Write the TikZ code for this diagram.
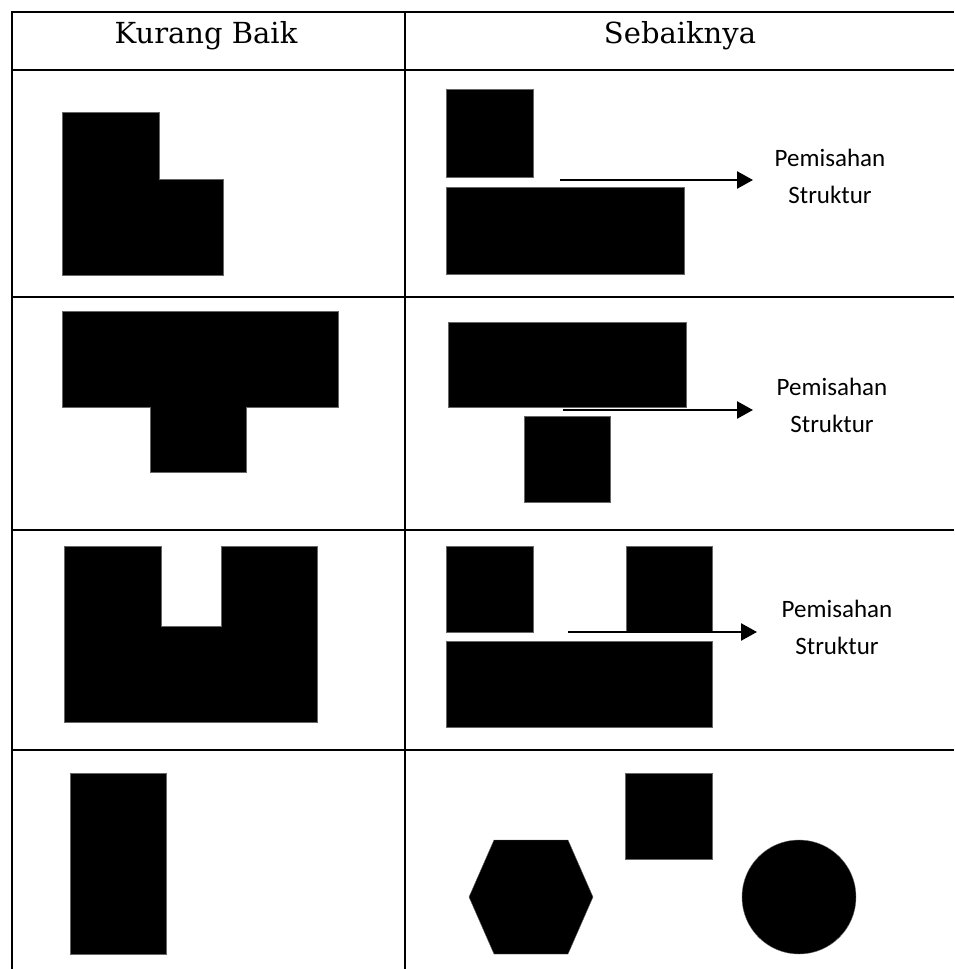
\documentclass[tikz,border=0pt]{standalone}
\usepackage{fontspec}
\setmainfont{DejaVu Serif}
\newfontfamily\lblfont{Carlito}
\usetikzlibrary{arrows.meta}
\tikzset{
  grid/.style={line width=2pt, black},
  blk/.style={fill=black, draw=black!60, line width=0.4pt},
  arr/.style={line width=2.5pt, -{Triangle[length=16pt,width=17pt]}},
  lbl/.style={align=center, inner sep=0pt, font=\lblfont\fontsize{25}{37}\selectfont},
  hdr/.style={anchor=base, inner sep=0pt, font=\fontsize{29}{34}\selectfont}
}
\begin{document}
\begin{tikzpicture}[x=1pt,y=-1pt]
\useasboundingbox (0,0) rectangle (954,969);
% table grid
\draw[grid] (12,969) -- (12,12) -- (954,12);
\draw[grid] (405,12) -- (405,969);
\foreach \yy in {70,297,530,750} \draw[grid] (12,\yy) -- (954,\yy);
% headers
\node[hdr] (h1) at (206,43) {Kurang Baik};
\node[hdr] (h2) at (680,43) {Sebaiknya};
% row 1
\fill[blk] (62,112) -- (159,112) -- (159,179) -- (223,179) -- (223,275) -- (62,275) -- cycle;
\fill[blk] (446,89) rectangle (533,177);
\fill[blk] (446,187) rectangle (684,274);
\node[lbl] (l1) at (830,176) {Pemisahan\\Struktur};
\coordinate (a1) at (560,180);
\coordinate (e1) at (753,180);
\draw[arr] (a1) -- (e1);
% row 2
\fill[blk] (62,311) -- (338,311) -- (338,407) -- (246,407) -- (246,472) -- (150,472) -- (150,407) -- (62,407) -- cycle;
\fill[blk] (448,322) rectangle (686,407);
\fill[blk] (524,416) rectangle (610,502);
\node[lbl] (l2) at (832,405) {Pemisahan\\Struktur};
\coordinate (a2) at (563,410);
\coordinate (e2) at (753,410);
\draw[arr] (a2) -- (e2);
% row 3
\fill[blk] (64,546) -- (161,546) -- (161,626) -- (221,626) -- (221,546) -- (317,546) -- (317,722) -- (64,722) -- cycle;
\fill[blk] (446,546) rectangle (533,632);
\fill[blk] (626,546) rectangle (712,632);
\fill[blk] (446,641) rectangle (712,727);
\node[lbl] (l3) at (837,627) {Pemisahan\\Struktur};
\coordinate (a3) at (568,632);
\coordinate (e3) at (757,632);
\draw[arr] (a3) -- (e3);
% row 4
\fill[blk] (70,773) rectangle (166,954);
\fill[blk] (469,897) -- (494,840) -- (568,840) -- (593,897) -- (568,954) -- (494,954) -- cycle;
\fill[blk] (625,773) rectangle (712,859);
\fill[blk] (799,897) circle (57);
\end{tikzpicture}
\end{document}
